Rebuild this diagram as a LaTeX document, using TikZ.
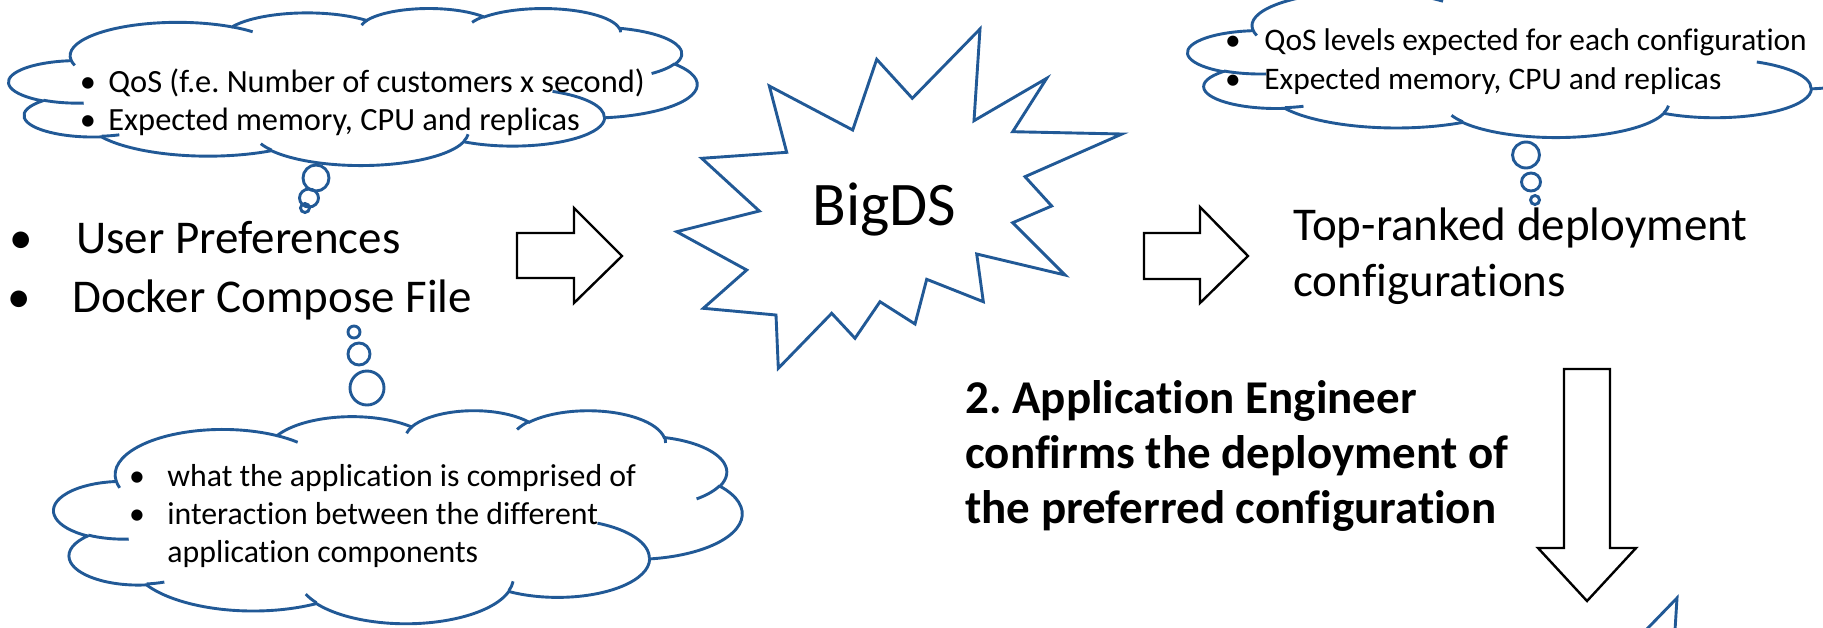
\documentclass[tikz,border=0pt]{standalone}
\usepackage{fontspec}
\setmainfont{Carlito}[Ligatures=NoCommon]
\definecolor{pplblue}{RGB}{33,89,150}
\newcommand\cvt[5]{%
 \pgfmathsetmacro\cvtA{atan2((#2)*sin(#4),(#3)*cos(#4))}%
 \pgfmathsetmacro\cvtB{atan2((#2)*sin((#4)+(#5)),(#3)*cos((#4)+(#5)))}%
 \pgfmathsetmacro\cvtB{\cvtB+360*(\cvtB<\cvtA)}%
 \expandafter\let\csname cs#1\endcsname\cvtA
 \expandafter\let\csname ce#1\endcsname\cvtB}
\newcommand\ppcloud[4]{%
\begin{scope}[shift={(#1,#2)}, x=1cm, y=1cm, xscale={#3*0.5/1229.158}, yscale={-#4*0.5/1229.158}]
 \draw[cloudline, fill=white] (3.9,14.37)
  arc[x radius=6.753,y radius=9.19,start angle=\csAa,end angle=\ceAa]
  arc[x radius=5.333,y radius=7.267,start angle=\csAb,end angle=\ceAb]
  arc[x radius=4.365,y radius=5.945,start angle=\csAc,end angle=\ceAc]
  arc[x radius=4.857,y radius=6.595,start angle=\csAd,end angle=\ceAd]
  arc[x radius=5.333,y radius=7.273,start angle=\csAe,end angle=\ceAe]
  arc[x radius=6.775,y radius=9.22,start angle=\csAf,end angle=\ceAf]
  arc[x radius=5.785,y radius=7.867,start angle=\csAg,end angle=\ceAg]
  arc[x radius=6.752,y radius=9.215,start angle=\csAh,end angle=\ceAh]
  arc[x radius=7.72,y radius=10.543,start angle=\csAi,end angle=\ceAi]
  arc[x radius=4.36,y radius=5.918,start angle=\csAj,end angle=\ceAj]
  arc[x radius=4.345,y radius=5.945,start angle=\csAk,end angle=\ceAk]
  -- cycle;
 \draw[cloudline]
  (4.693,26.177) arc[x radius=4.345,y radius=5.945,start angle=\csIa,end angle=\ceIa]
  (6.928,34.899) arc[x radius=4.36,y radius=5.918,start angle=\csIb,end angle=\ceIb]
  (16.478,39.09) arc[x radius=6.752,y radius=9.215,start angle=\csIc,end angle=\ceIc]
  (28.827,34.751) arc[x radius=6.752,y radius=9.215,start angle=\csId,end angle=\ceId]
  (34.129,22.954) arc[x radius=5.785,y radius=7.867,start angle=\csIe,end angle=\ceIe]
  (41.798,15.354) arc[x radius=5.333,y radius=7.273,start angle=\csIf,end angle=\ceIf]
  (38.324,5.426) arc[x radius=4.857,y radius=6.595,start angle=\csIg,end angle=\ceIg]
  (29.078,3.952) arc[x radius=4.857,y radius=6.595,start angle=\csIh,end angle=\ceIh]
  (22.141,4.72) arc[x radius=4.365,y radius=5.945,start angle=\csIi,end angle=\ceIi]
  (14.0,5.192) arc[x radius=6.753,y radius=9.19,start angle=\csIj,end angle=\ceIj]
  (4.127,15.789) arc[x radius=6.753,y radius=9.19,start angle=\csIk,end angle=\ceIk];
\end{scope}}
\begin{document}
\frenchspacing
\begin{tikzpicture}[x=0.5pt,y=-0.5pt,
  cloudline/.style={draw=pplblue, line width=1.45pt},
  blockarrow/.style={draw=black, line width=1.2pt, fill=white, line join=miter},
  bigtxt/.style={font=\fontsize{23.5}{28}\selectfont, inner sep=0pt, anchor=base west},
  boldtxt/.style={font=\fontsize{23.5}{28}\selectfont\bfseries, inner sep=0pt, anchor=base west},
  smalltxt/.style={font=\fontsize{15.7}{19}\selectfont, inner sep=0pt, anchor=base west},
  bigbul/.style={font=\fontsize{23.5}{28}\selectfont, inner sep=0pt, anchor=base},
  smallbul/.style={font=\fontsize{15.7}{19}\selectfont, inner sep=0pt, anchor=base}]
\useasboundingbox (0,0) rectangle (1823,627);
\clip (0,0) rectangle (1823,627);
\cvt{Aa}{6753}{9190}{-190.4875}{123.7805}
\cvt{Ab}{5333}{7267}{-144.1024}{89.9452}
\cvt{Ac}{4365}{5945}{-145.8079}{99.7230}
\cvt{Ad}{4857}{6595}{-130.9861}{117.2417}
\cvt{Ae}{5333}{7273}{-78.7089}{109.0269}
\cvt{Af}{6775}{9220}{-46.2673}{130.2690}
\cvt{Ag}{5785}{7867}{0.6250}{114.0333}
\cvt{Ah}{6752}{9215}{22.4516}{115.1726}
\cvt{Ai}{7720}{10543}{66.2426}{75.7110}
\cvt{Aj}{4360}{5918}{-274.9421}{146.7356}
\cvt{Ak}{4345}{5945}{-246.8285}{152.5189}
\cvt{Ia}{4345}{5945}{86.7420}{26.4295}
\cvt{Ib}{4360}{5918}{73.6105}{11.4475}
\cvt{Ic}{6752}{9215}{137.6242}{14.0811}
\cvt{Id}{6752}{9215}{6.4533}{15.9984}
\cvt{Ie}{5785}{7867}{-70.2924}{70.9174}
\cvt{If}{5333}{7273}{30.3180}{27.7515}
\cvt{Ig}{4857}{6595}{-13.7443}{14.8589}
\cvt{Ih}{4857}{6595}{-149.1815}{18.1954}
\cvt{Ii}{4365}{5945}{-163.4943}{17.6864}
\cvt{Ij}{6753}{9190}{-66.7070}{12.3194}
\cvt{Ik}{6753}{9190}{157.6544}{11.8582}

% top-left cloud
\ppcloud{9}{8}{688}{157}
\draw[cloudline] (316,178) ellipse[x radius=13, y radius=13];
\draw[cloudline] (309,198) ellipse[x radius=9.5, y radius=9];
\draw[cloudline] (305,208) ellipse[x radius=4.5, y radius=4.5];
\node[smallbul, font=\fontsize{16.2}{19}\selectfont] (b1) at (88,92) {•};
\node[smalltxt, font=\fontsize{16.2}{19}\selectfont] (t1) at (108,92) {QoS (f.e. Number of customers x second)};
\node[smallbul, font=\fontsize{16.2}{19}\selectfont] (b2) at (88,130) {•};
\node[smalltxt, font=\fontsize{16.2}{19}\selectfont] (t2) at (108,130) {Expected memory, CPU and replicas};

% top-right cloud
\ppcloud{1188}{-23}{720}{160}
\draw[cloudline] (1526,155) ellipse[x radius=13.5, y radius=13];
\draw[cloudline] (1531,182) ellipse[x radius=9.5, y radius=9];
\draw[cloudline] (1535,200) ellipse[x radius=4.5, y radius=4.5];
\node[smallbul] (b3) at (1233,50) {•};
\node[smalltxt] (t3) at (1264,50) {QoS levels expected for each configuration};
\node[smallbul] (b4) at (1233,89) {•};
\node[smalltxt] (t4) at (1264,89) {Expected memory, CPU and replicas};

% bottom cloud
\draw[cloudline] (354,332) ellipse[x radius=6, y radius=6];
\draw[cloudline] (359,354) ellipse[x radius=11, y radius=11];
\draw[cloudline] (367,388) ellipse[x radius=17, y radius=17];
\ppcloud{54}{410}{688}{213}
\node[smallbul, font=\fontsize{15.9}{19}\selectfont] (b5) at (137,486) {•};
\node[smalltxt, font=\fontsize{15.9}{19}\selectfont] (t5) at (167,486) {what the application is comprised of};
\node[smallbul, font=\fontsize{15.9}{19}\selectfont] (b6) at (137,524) {•};
\node[smalltxt, font=\fontsize{15.9}{19}\selectfont] (t6) at (167,524) {interaction between the different};
\node[smalltxt, font=\fontsize{15.9}{19}\selectfont] (t7) at (167,562) {application components};

% inputs
\node[bigbul] (ib1) at (21,253) {•};
\node[bigtxt] (up) at (76,253) {User Preferences};
\node[bigbul] (ib2) at (19,312) {•};
\node[bigtxt] (dc) at (72,312) {Docker Compose File};

% arrows
\draw[blockarrow] (517,233) -- (574,233) -- (574,208) -- (622,256) -- (574,303) -- (574,278) -- (517,278) -- cycle;
\draw[blockarrow] (1144,233) -- (1200,233) -- (1200,207) -- (1248,256) -- (1200,303) -- (1200,279) -- (1144,279) -- cycle;
\draw[blockarrow] (1564,369) -- (1610,369) -- (1610,548) -- (1636,548) -- (1587,601) -- (1538,548) -- (1564,548) -- cycle;

% star
\draw[cloudline, fill=white, line join=miter] (769.3,86) -- (852.7,130) -- (876.7,59.3) -- (912.3,98.3) -- (980,29) -- (974,120.7)
  -- (1046.7,78.3) -- (1012.7,131.7) -- (1122,134) -- (1025,176.7) -- (1051.7,206) -- (1012.7,222.7)
  -- (1065,275) -- (976.7,254) -- (983.3,301.7) -- (926.7,279.3) -- (915,324) -- (880,301.7)
  -- (855,338.3) -- (831.7,313.3) -- (778.3,368.3) -- (776,315) -- (703.3,308.3) -- (746.7,270)
  -- (676.7,231.7) -- (759.3,211) -- (701.7,158.3) -- (786.7,152.3) -- cycle;
\node[font=\fontsize{31}{37}\selectfont, inner sep=0pt, anchor=base west] (bigds) at (812,225) {BigDS};

% outputs
\node[bigtxt] (top1) at (1293,240) {Top-ranked deployment};
\node[bigtxt] (top2) at (1293,296) {configurations};
\node[boldtxt] (e1) at (965,413) {2. Application Engineer};
\node[boldtxt] (e2) at (965,468) {confirms the deployment of};
\node[boldtxt] (e3) at (965,523) {the preferred configuration};

% partial shape bottom right
\draw[cloudline, line join=miter] (1646,630) -- (1677,598) -- (1675,630);
\end{tikzpicture}
\end{document}
